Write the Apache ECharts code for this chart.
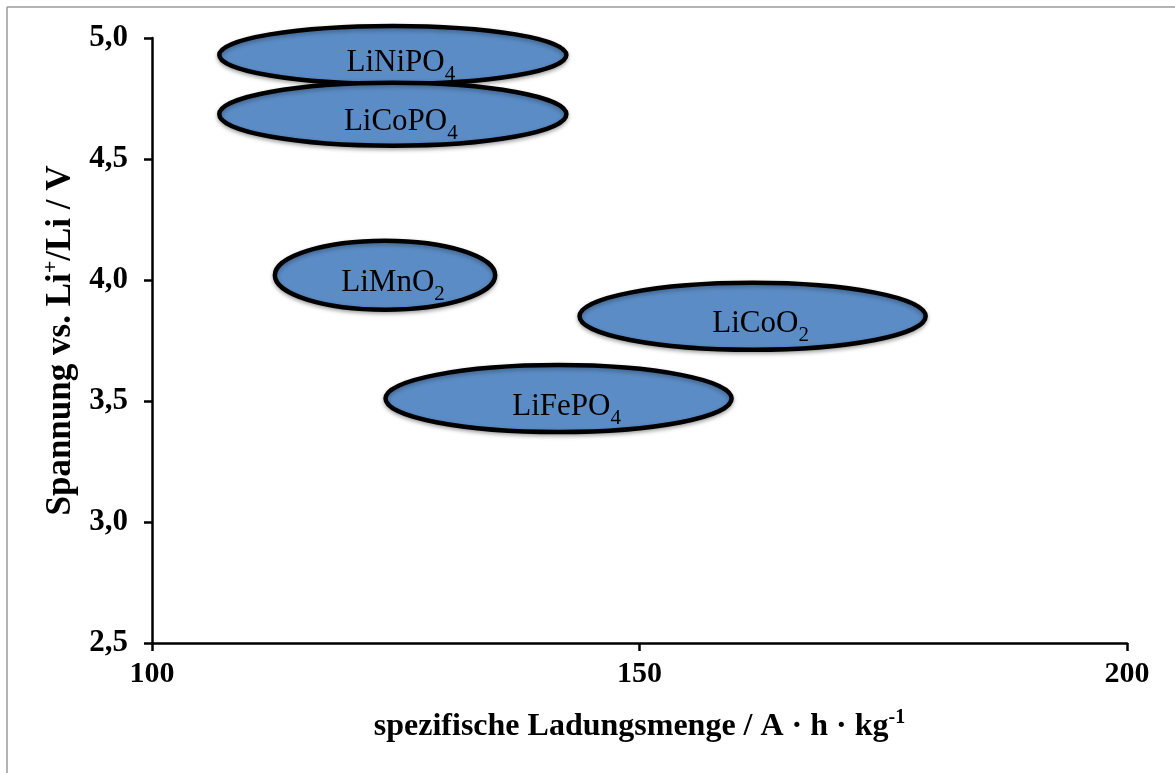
<!DOCTYPE html>
<html>
<head>
<meta charset="utf-8">
<script src="https://cdn.jsdelivr.net/npm/echarts@6/dist/echarts.min.js"></script>
<style>
  html, body { margin: 0; padding: 0; background: #ffffff; }
  #chart { width: 1175px; height: 773px; }
</style>
</head>
<body>
<div id="chart"></div>
<script>
// ---- data ----
const materials = ['LiNiPO4', 'LiCoPO4', 'LiMnO2', 'LiCoO2', 'LiFePO4'];
const capacityCenter = [124.7, 124.7, 123.9, 161.6, 141.7];   // A·h·kg^-1
const voltageCenter = [4.93, 4.685, 4.02, 3.85, 3.51];        // V vs Li+/Li
const capacitySpan = [35.6, 35.6, 22.6, 35.5, 35.5];          // ellipse width (x units)
const voltageSpan = [0.24, 0.26, 0.285, 0.277, 0.277];        // ellipse height (V)
const xTicks = [100, 150, 200];
const yTicks = [2.5, 3.0, 3.5, 4.0, 4.5, 5.0];

const FONT = 'Liberation Serif';

function chemLabel(name) {
  return name.split(/(\d+)/).filter(Boolean)
    .map(p => /^\d+$/.test(p) ? '{s|' + p + '}' : '{n|' + p + '}').join('');
}

const seriesData = materials.map((m, i) => [capacityCenter[i], voltageCenter[i], capacitySpan[i], voltageSpan[i], m]);

const chart = echarts.init(document.getElementById('chart'), null, { renderer: 'canvas' });

const option = {
  backgroundColor: '#ffffff',
  animation: false,
  graphic: [
    { type: 'line', shape: { x1: 7, y1: 7, x2: 1175, y2: 7 }, style: { stroke: '#9a9a9a', lineWidth: 1.5 }, silent: true },
    { type: 'line', shape: { x1: 7, y1: 7, x2: 7, y2: 773 }, style: { stroke: '#9a9a9a', lineWidth: 1.5 }, silent: true }
  ],
  grid: { left: 152, right: 48, top: 38, bottom: 130, containLabel: false },
  xAxis: {
    type: 'value',
    min: xTicks[0], max: xTicks[xTicks.length - 1], interval: xTicks[1] - xTicks[0],
    name: '{t|spezifische Ladungsmenge / A · h · kg}{sup|-1}',
    nameLocation: 'middle',
    nameGap: 65,
    nameTextStyle: {
      fontFamily: FONT, fontWeight: 'bold', fontSize: 32, color: '#000',
      rich: {
        t: { fontFamily: FONT, fontWeight: 'bold', fontSize: 32, lineHeight: 38, color: '#000' },
        sup: { fontFamily: FONT, fontWeight: 'bold', fontSize: 20, verticalAlign: 'top', color: '#000' }
      }
    },
    axisLine: { show: true, lineStyle: { color: '#000', width: 2.5 } },
    axisTick: { show: true, inside: false, length: 8, lineStyle: { color: '#000', width: 2.5 } },
    axisLabel: { fontFamily: FONT, fontWeight: 'bold', fontSize: 30, color: '#000', margin: 16 },
    splitLine: { show: false }
  },
  yAxis: {
    type: 'value',
    min: yTicks[0], max: yTicks[yTicks.length - 1], interval: 0.5,
    name: '{t|Spannung vs. Li}{sup|+}{t|/Li / V}',
    nameLocation: 'middle',
    nameGap: 66,
    nameTextStyle: {
      fontFamily: FONT, fontWeight: 'bold', fontSize: 35, color: '#000',
      rich: {
        t: { fontFamily: FONT, fontWeight: 'bold', fontSize: 35, lineHeight: 41, color: '#000' },
        sup: { fontFamily: FONT, fontWeight: 'bold', fontSize: 22, verticalAlign: 'top', color: '#000' }
      }
    },
    axisLine: { show: true, lineStyle: { color: '#000', width: 2.5 } },
    axisTick: { show: true, inside: false, length: 8, lineStyle: { color: '#000', width: 2.5 } },
    axisLabel: {
      fontFamily: FONT, fontWeight: 'bold', fontSize: 31, color: '#000', margin: 24,
      formatter: v => v.toFixed(1).replace('.', ',')
    },
    splitLine: { show: false }
  },
  series: [{
    type: 'custom',
    clip: false,
    data: seriesData,
    renderItem: function (params, api) {
      const c = api.coord([api.value(0), api.value(1)]);
      const s = api.size([api.value(2), api.value(3)]);
      const name = materials[params.dataIndex];
      return {
        type: 'group',
        children: [
          {
            type: 'ellipse',
            shape: { cx: c[0], cy: c[1], rx: s[0] / 2, ry: s[1] / 2 },
            style: {
              fill: '#5B8CC5', stroke: '#000', lineWidth: 4.5,
              shadowBlur: 4, shadowColor: 'rgba(0,0,0,0.3)', shadowOffsetY: 2
            }
          },
          {
            type: 'text',
            x: c[0] + 8,
            y: c[1] + 8,
            style: {
              text: chemLabel(name),
              align: 'center',
              verticalAlign: 'middle',
              fill: '#000',
              fontFamily: FONT,
              fontSize: 31,
              rich: {
                n: { fontFamily: FONT, fontSize: 31, lineHeight: 44, fill: '#000', color: '#000' },
                s: { fontFamily: FONT, fontSize: 21, verticalAlign: 'bottom', fill: '#000', color: '#000' }
              }
            }
          }
        ]
      };
    }
  }]
};

chart.setOption(option);
</script>
</body>
</html>
